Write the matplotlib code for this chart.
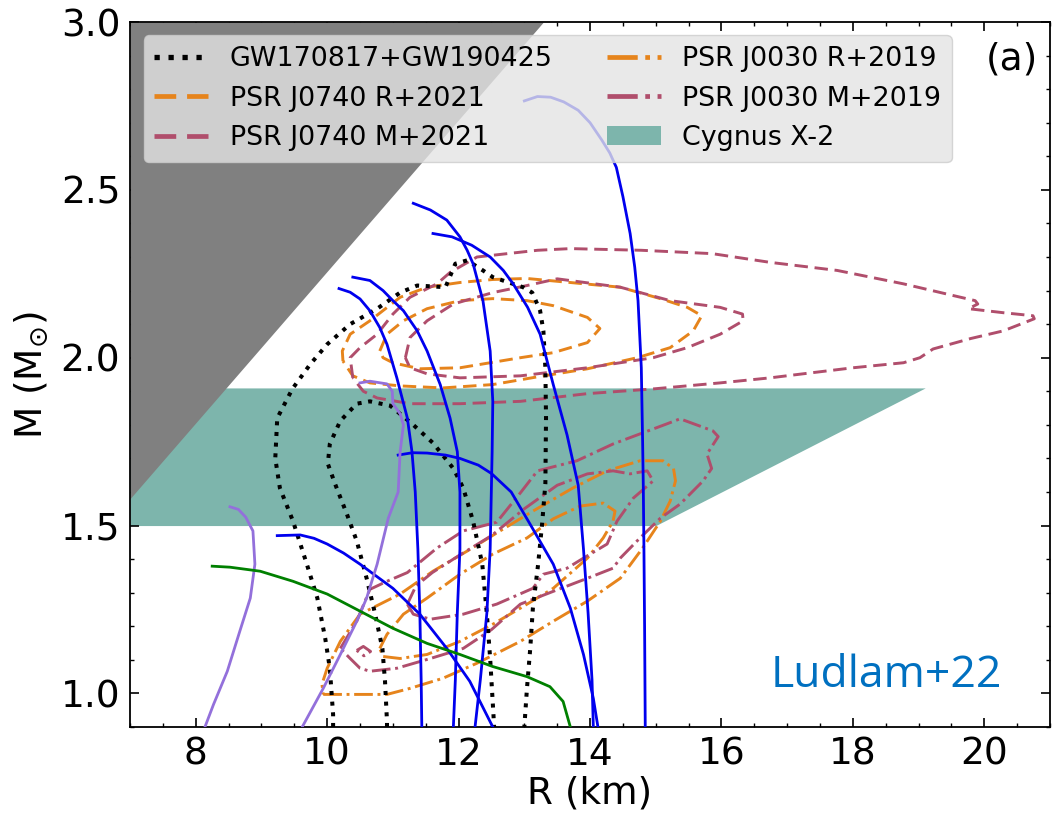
import matplotlib
matplotlib.use('Agg')
import matplotlib.pyplot as plt
from matplotlib.lines import Line2D
from matplotlib.patches import Patch
import numpy as np

# --- EOS mass-radius curves (R in km, M in Msun) ---
blue1_r = [10.18, 10.35, 10.5, 10.65, 10.8, 10.91, 11.06, 11.22, 11.29, 11.34, 11.38, 11.41, 11.43, 11.44]
blue1_m = [2.206, 2.195, 2.175, 2.14, 2.09, 2.04, 1.94, 1.82, 1.72, 1.60, 1.43, 1.24, 1.04, 0.90]
blue2_r = [10.39, 10.65, 10.85, 11.0, 11.16, 11.37, 11.52, 11.72, 11.87, 11.98, 12.02, 12.02, 11.98, 11.95, 11.92]
blue2_m = [2.24, 2.23, 2.20, 2.17, 2.14, 2.08, 2.02, 1.92, 1.82, 1.72, 1.60, 1.43, 1.24, 1.04, 0.90]
blue3_r = [11.31, 11.57, 11.82, 12.02, 12.13, 12.22, 12.37, 12.48, 12.52, 12.51, 12.48, 12.43, 12.33, 12.25]
blue3_m = [2.46, 2.44, 2.41, 2.36, 2.32, 2.28, 2.17, 2.02, 1.87, 1.72, 1.43, 1.24, 1.04, 0.90]
blue4_r = [11.61, 11.9, 12.2, 12.48, 12.68, 12.83, 13.05, 13.24, 13.44, 13.65, 13.82, 13.9, 13.97, 14.03, 14.05]
blue4_m = [2.37, 2.36, 2.335, 2.30, 2.26, 2.22, 2.15, 2.07, 1.92, 1.77, 1.62, 1.43, 1.24, 1.04, 0.90]
blue5_r = [13.0, 13.2, 13.4, 13.6, 13.82, 14.0, 14.18, 14.3, 14.4, 14.5, 14.61, 14.68, 14.73, 14.78, 14.8,
           14.81, 14.82, 14.83, 14.84]
blue5_m = [2.765, 2.778, 2.776, 2.762, 2.737, 2.70, 2.648, 2.61, 2.567, 2.48, 2.37, 2.27, 2.17, 1.97, 1.75,
           1.62, 1.43, 1.20, 0.90]
blue6_r = [11.08, 11.3, 11.52, 11.8, 12.02, 12.3, 12.5, 12.8, 13.1, 13.44, 13.7, 13.9, 14.05, 14.12]
blue6_m = [1.71, 1.717, 1.716, 1.71, 1.70, 1.68, 1.655, 1.60, 1.50, 1.385, 1.254, 1.116, 0.985, 0.90]
blue7_r = [9.24, 9.59, 9.8, 10.0, 10.25, 10.5, 11.0, 11.41, 11.82, 12.17, 12.52]
blue7_m = [1.47, 1.472, 1.462, 1.445, 1.418, 1.385, 1.313, 1.236, 1.134, 1.036, 0.90]

purple1_r = [8.52, 8.65, 8.76, 8.87, 8.9, 8.83, 8.67, 8.48, 8.27, 8.14]
purple1_m = [1.556, 1.548, 1.525, 1.484, 1.385, 1.284, 1.185, 1.066, 0.967, 0.90]
purple2_r = [10.5, 10.65, 10.91, 10.99, 11.0, 11.11, 11.16, 11.11, 11.08, 10.93, 10.76, 10.6, 10.45, 10.2, 9.94, 9.62]
purple2_m = [1.925, 1.93, 1.922, 1.90, 1.863, 1.833, 1.80, 1.72, 1.60, 1.522, 1.385, 1.284, 1.215, 1.116, 1.015, 0.90]

green1_r = [8.25, 8.52, 8.98, 9.48, 10.0, 10.5, 11.0, 11.52, 12.02, 12.52, 13.04, 13.39, 13.59, 13.7]
green1_m = [1.379, 1.376, 1.364, 1.334, 1.296, 1.245, 1.194, 1.149, 1.116, 1.08, 1.05, 1.02, 0.976, 0.90]

# --- GW170817 + GW190425 credible regions ---
gw_outer_r = [10.09, 10.09, 10.04, 9.97, 9.85, 9.69, 9.48, 9.28, 9.21, 9.24, 9.47, 9.74, 10.0, 10.35,
              10.76, 11.11, 11.37, 11.8, 11.95, 12.13, 12.37, 12.52, 12.98, 13.12, 13.24, 13.29,
              13.32, 13.33, 13.32, 13.27, 13.21, 13.13, 13.09, 13.04, 13.0]
gw_outer_m = [0.90, 0.937, 1.075, 1.164, 1.284, 1.385, 1.513, 1.612, 1.70, 1.82, 1.907, 1.98, 2.04, 2.10,
              2.146, 2.194, 2.215, 2.21, 2.28, 2.29, 2.26, 2.24, 2.21, 2.194, 2.14, 2.08,
              1.97, 1.82, 1.624, 1.504, 1.385, 1.254, 1.134, 1.015, 0.90]
gw_inner_r = [10.91, 10.91, 10.88, 10.84, 10.73, 10.6, 10.45, 10.3, 10.12, 10.01, 10.04, 10.2, 10.45,
              10.65, 10.96, 11.31, 11.61, 11.92, 12.07, 12.22, 12.36, 12.43, 12.48, 12.53, 12.54]
gw_inner_m = [0.90, 0.916, 1.036, 1.134, 1.236, 1.343, 1.454, 1.534, 1.624, 1.684, 1.743, 1.812, 1.863,
              1.87, 1.857, 1.80, 1.746, 1.67, 1.612, 1.513, 1.385, 1.236, 1.104, 0.937, 0.90]

# --- PSR J0740+6620 (Riley / Miller 2021) ---
j0740r_outer_r = [10.24, 10.23, 10.35, 10.65, 11.11, 11.52, 12.02, 12.52, 13.04, 13.7, 14.46, 15.07, 15.48,
                  15.7, 15.57, 15.22, 14.72, 13.96, 13.2, 12.52, 11.76, 11.11, 10.65, 10.39, 10.24]
j0740r_outer_m = [1.99, 2.02, 2.07, 2.11, 2.18, 2.21, 2.224, 2.233, 2.236, 2.224, 2.21, 2.176, 2.15,
                  2.125, 2.08, 2.03, 2.0, 1.967, 1.943, 1.92, 1.91, 1.916, 1.925, 1.946, 1.99]
j0740r_inner_r = [10.8, 10.91, 11.16, 11.52, 12.02, 12.52, 13.04, 13.44, 13.96, 14.15, 13.96, 13.44,
                  12.94, 12.02, 11.41, 11.0, 10.85, 10.8]
j0740r_inner_m = [2.02, 2.07, 2.11, 2.146, 2.17, 2.176, 2.17, 2.155, 2.12, 2.087, 2.045, 2.015,
                  2.0, 1.97, 1.967, 1.985, 2.0, 2.02]
j0740m_outer_r = [10.39, 10.35, 10.5, 10.76, 11.0, 11.26, 11.67, 11.87, 12.28, 12.74, 13.2, 13.7, 14.78,
                  15.86, 16.74, 17.76, 18.77, 19.53, 19.86, 19.9, 19.76, 20.29, 20.74, 20.76, 20.29,
                  19.79, 19.22, 19.02, 18.77, 18.0, 17.24, 16.74, 15.98, 14.96, 13.96, 12.94, 12.02,
                  11.26, 10.76, 10.55, 10.39]
j0740m_outer_m = [1.94, 2.0, 2.03, 2.07, 2.13, 2.18, 2.22, 2.254, 2.30, 2.31, 2.32, 2.325, 2.32,
                  2.31, 2.284, 2.26, 2.22, 2.185, 2.17, 2.16, 2.146, 2.134, 2.125, 2.116, 2.08,
                  2.057, 2.026, 2.0, 1.985, 1.97, 1.952, 1.94, 1.925, 1.907, 1.893, 1.87, 1.863,
                  1.863, 1.88, 1.90, 1.94]
j0740m_inner_r = [11.19, 11.26, 11.52, 11.92, 12.52, 13.04, 13.5, 14.46, 15.22, 15.98, 16.32, 16.33, 15.98,
                  15.48, 14.96, 13.96, 12.94, 12.02, 11.52, 11.26, 11.19]
j0740m_inner_m = [2.0, 2.06, 2.11, 2.16, 2.194, 2.215, 2.235, 2.21, 2.17, 2.15, 2.13, 2.11, 2.07,
                  2.03, 2.0, 1.97, 1.946, 1.94, 1.952, 1.97, 2.0]

# --- PSR J0030+0451 (Riley / Miller 2019) ---
j0030r_outer_r = [9.94, 10.4, 10.91, 11.26, 11.76, 12.28, 12.94, 13.44, 13.96, 14.46, 14.8, 15.07, 15.22,
                  15.3, 15.27, 15.11, 14.76, 14.26, 13.74, 13.13, 12.63, 12.13, 11.61, 11.11, 10.5,
                  10.2, 10.0, 9.92, 9.94]
j0030r_outer_m = [0.997, 0.997, 0.997, 1.015, 1.045, 1.09, 1.155, 1.215, 1.275, 1.343, 1.433, 1.513, 1.573,
                  1.633, 1.67, 1.693, 1.693, 1.663, 1.612, 1.543, 1.484, 1.424, 1.364, 1.296, 1.236,
                  1.155, 1.075, 1.027, 0.997]
j0030r_inner_r = [10.8, 10.91, 11.16, 11.52, 12.02, 12.52, 13.04, 13.44, 13.85, 14.2, 14.38, 14.35, 14.2,
                  13.96, 13.44, 12.94, 12.52, 12.02, 11.52, 11.11, 10.85, 10.8]
j0030r_inner_m = [1.134, 1.176, 1.236, 1.284, 1.355, 1.415, 1.463, 1.52, 1.558, 1.567, 1.543, 1.513, 1.463,
                  1.403, 1.313, 1.254, 1.206, 1.155, 1.116, 1.104, 1.11, 1.134]
j0030m_outer_r = [10.2, 10.45, 10.65, 10.91, 11.22, 11.67, 12.07, 12.58, 12.95, 13.2, 13.8, 14.35, 14.76,
                  15.17, 15.37, 15.87, 15.95, 15.78, 15.85, 15.72, 15.37, 15.07, 14.76, 14.46, 14.35,
                  13.96, 13.44, 12.94, 12.5, 12.07, 11.57, 11.06, 10.65, 10.5, 10.35, 10.2]
j0030m_outer_m = [1.134, 1.215, 1.31, 1.334, 1.36, 1.433, 1.484, 1.51, 1.60, 1.663, 1.693, 1.743, 1.773,
                  1.803, 1.818, 1.782, 1.765, 1.713, 1.67, 1.633, 1.564, 1.522, 1.463, 1.403, 1.373,
                  1.343, 1.304, 1.266, 1.19, 1.134, 1.104, 1.075, 1.066, 1.075, 1.104, 1.134]
j0030m_inner_r = [11.22, 11.31, 11.57, 12.07, 12.58, 13.13, 13.29, 13.65, 13.9, 14.26, 14.41, 14.66, 14.96,
                  14.87, 14.61, 14.35, 13.96, 13.5, 13.0, 12.5, 12.0, 11.6, 11.35, 11.22]
j0030m_inner_m = [1.266, 1.236, 1.221, 1.236, 1.266, 1.313, 1.355, 1.373, 1.403, 1.445, 1.513, 1.582, 1.633,
                  1.663, 1.654, 1.663, 1.654, 1.62, 1.55, 1.47, 1.41, 1.36, 1.32, 1.266]
j0030m_blob_r = [10.45, 10.55, 10.66, 10.56, 10.45]
j0030m_blob_m = [1.128, 1.14, 1.125, 1.112, 1.128]

# --- excluded / constrained regions ---
causal_km_per_msun = 4.43      # R = 3 GM/c^2
cyg_m_lo, cyg_m_hi = 1.50, 1.91
cyg_km_per_msun = 10.0         # M/R >= 0.1 Msun/km

C_ORANGE = '#e6841c'
C_MAROON = '#b04e6c'
C_TEAL = '#7db5ac'
DASH = (4.6, 2.3)
LW_C = 2.1


def main():
    fig = plt.figure(figsize=(10.53, 8.15), dpi=100)
    ax = fig.add_axes([0.1235, 0.108, 0.8737, 0.865])

    # Cygnus X-2 band and causality limit
    m_band = np.array([cyg_m_lo, cyg_m_hi])
    ax.fill_betweenx(m_band, 7, cyg_km_per_msun * m_band, color=C_TEAL, lw=0, zorder=1)
    r_caus = np.array([7.0, 3.0 * causal_km_per_msun])
    ax.fill_between(r_caus, r_caus / causal_km_per_msun, 3.0, color='#808080', lw=0, zorder=2)

    # observational contours
    ax.plot(gw_outer_r, gw_outer_m, color='k', ls=':', lw=2.9, zorder=4)
    ax.plot(gw_inner_r, gw_inner_m, color='k', ls=':', lw=2.9, zorder=4)
    for r, m in [(j0740r_outer_r, j0740r_outer_m), (j0740r_inner_r, j0740r_inner_m)]:
        ax.plot(r, m, color=C_ORANGE, ls='--', dashes=DASH, lw=LW_C, zorder=3)
    for r, m in [(j0740m_outer_r, j0740m_outer_m), (j0740m_inner_r, j0740m_inner_m)]:
        ax.plot(r, m, color=C_MAROON, ls='--', dashes=DASH, lw=LW_C, zorder=3)
    for r, m in [(j0030r_outer_r, j0030r_outer_m), (j0030r_inner_r, j0030r_inner_m)]:
        ax.plot(r, m, color=C_ORANGE, ls='-.', lw=LW_C, zorder=3)
    for r, m in [(j0030m_outer_r, j0030m_outer_m), (j0030m_inner_r, j0030m_inner_m),
                 (j0030m_blob_r, j0030m_blob_m)]:
        ax.plot(r, m, color=C_MAROON, ls='-.', lw=LW_C, zorder=3)

    # EOS curves
    for r, m in [(blue1_r, blue1_m), (blue2_r, blue2_m), (blue3_r, blue3_m), (blue4_r, blue4_m),
                 (blue5_r, blue5_m), (blue6_r, blue6_m), (blue7_r, blue7_m)]:
        ax.plot(r, m, color='#0000ee', lw=2.0, zorder=5)
    ax.plot(purple1_r, purple1_m, color='#9370db', lw=2.0, zorder=5)
    ax.plot(purple2_r, purple2_m, color='#9370db', lw=2.0, zorder=5)
    ax.plot(green1_r, green1_m, color='#008000', lw=2.0, zorder=5)

    ax.set_xlim(7, 21)
    ax.set_ylim(0.9, 3.0)
    ax.set_xticks([8, 10, 12, 14, 16, 18, 20])
    ax.set_yticks([1.0, 1.5, 2.0, 2.5, 3.0])
    ax.set_xticks(np.arange(7, 21.01, 0.5), minor=True)
    ax.set_yticks(np.arange(0.9, 3.001, 0.1), minor=True)
    ax.tick_params(which='both', direction='in', top=True, right=True, labelsize=27, pad=7)
    ax.tick_params(which='major', length=6.7, width=1.2)
    ax.tick_params(which='minor', length=3.1, width=1.0)
    for s in ax.spines.values():
        s.set_linewidth(1.3)
    ax.set_xlabel('R (km)', fontsize=27, labelpad=2)
    ax.set_ylabel(r'M (M$_{\odot}$)', fontsize=27, labelpad=8)

    ax.text(0.987, 0.972, '(a)', transform=ax.transAxes, ha='right', va='top', fontsize=27, zorder=8)
    ax.text(16.75, 1.02, 'Ludlam+22', color='#0070c0', fontsize=32, family='Open Sans',
            ha='left', va='baseline', zorder=8)

    handles = [
        Line2D([], [], color='k', ls=':', lw=3.8),
        Line2D([], [], color=C_ORANGE, ls='--', dashes=DASH, lw=3.4),
        Line2D([], [], color=C_MAROON, ls='--', dashes=DASH, lw=3.4),
        Line2D([], [], color=C_ORANGE, ls='-.', lw=3.4),
        Line2D([], [], color=C_MAROON, ls='-.', lw=3.4),
        Patch(facecolor=C_TEAL, edgecolor='none'),
    ]
    labels = ['GW170817+GW190425', 'PSR J0740 R+2021', 'PSR J0740 M+2021',
              'PSR J0030 R+2019', 'PSR J0030 M+2019', 'Cygnus X-2']
    leg = ax.legend(handles, labels, loc='upper left', ncol=2, fontsize=19.4,
                    facecolor='#e4e4e4', framealpha=0.8, edgecolor='#cccccc')
    leg.set_zorder(10)

    fig.savefig('out.png', dpi=100)
    plt.close(fig)


if __name__ == '__main__':
    main()
